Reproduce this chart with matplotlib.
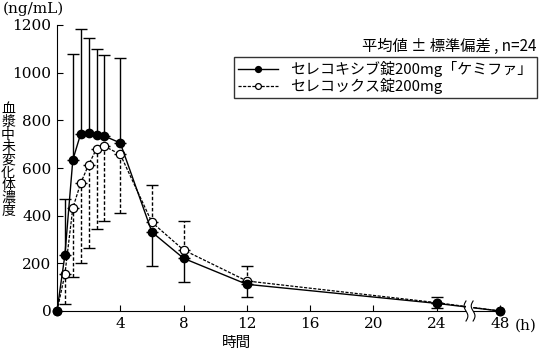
import numpy as np
import matplotlib
matplotlib.use("Agg")
import matplotlib.pyplot as plt
from matplotlib.transforms import blended_transform_factory

plt.rcParams['font.family'] = ['DejaVu Serif', 'Noto Sans CJK JP']

# ---- data ----
time_h = [0, 0.5, 1, 1.5, 2, 2.5, 3, 4, 6, 8, 12, 24, 48]
test_mean = [0, 235, 634, 744, 745, 738, 734, 705, 331, 221, 112, 32, 0]
test_sd   = [0, 236, 446, 439, 399, 363, 340, 355, 142, 101, 52, 20, 0]
ref_mean  = [0, 155, 432, 537, 614, 681, 691, 657, 372, 256, 126, 35, 0]
ref_sd    = [0, 124, 289, 334, 350, 337, 315, 245, 157, 123, 62, 22, 0]
x_ticks = [0, 4, 8, 12, 16, 20, 24, 48]
x_ticklabels = ["", "4", "8", "12", "16", "20", "24", "48"]
y_ticks = [0, 200, 400, 600, 800, 1000, 1200]
label_test = "セレコキシブ錠200mg「ケミファ」"
label_ref = "セレコックス錠200mg"

# ---- broken-axis scale: 24-48 h compressed ----
def fwd(x):
    x = np.asarray(x, dtype=float)
    return np.where(x <= 24, x, 24 + (x - 24) * (4.0 / 24.0))

def inv(y):
    y = np.asarray(y, dtype=float)
    return np.where(y <= 24, y, 24 + (y - 24) * (24.0 / 4.0))

fig = plt.figure(figsize=(5.39, 3.52), dpi=100)
ax = fig.add_axes([57/539, 41/352, 443/539, 286/352])
ax.set_xscale('function', functions=(fwd, inv))

t = np.array(time_h, dtype=float)
tm = np.array(test_mean, dtype=float)
ts = np.array(test_sd, dtype=float)
rm = np.array(ref_mean, dtype=float)
rs = np.array(ref_sd, dtype=float)

test_up = tm >= rm
# error bars: one-sided, away from the other curve
test_err = np.vstack([np.where(test_up, 0, ts), np.where(test_up, ts, 0)])
ref_err = np.vstack([np.where(test_up, rs, 0), np.where(test_up, 0, rs)])

mask = ts > 0
eb1 = ax.errorbar(t[mask], tm[mask], yerr=test_err[:, mask], fmt='none',
                  ecolor='black', elinewidth=1.0, capsize=4, capthick=1.0,
                  zorder=2, clip_on=False)
mask2 = rs > 0
eb2 = ax.errorbar(t[mask2], rm[mask2], yerr=ref_err[:, mask2], fmt='none',
                  ecolor='black', elinewidth=1.0, capsize=4, capthick=1.0,
                  zorder=2, clip_on=False)
for lc in eb2[2]:
    lc.set_linestyle((0, (2.5, 1.5)))

ax.plot(t, rm, linestyle=(0, (2.5, 1.2)), color='black', linewidth=0.9,
        marker='o', markersize=6, markerfacecolor='white',
        markeredgecolor='black', markeredgewidth=0.9, zorder=3,
        clip_on=False, label=label_ref)
ax.plot(t, tm, linestyle='-', color='black', linewidth=1.0,
        marker='o', markersize=6, markerfacecolor='black',
        markeredgecolor='black', zorder=4, clip_on=False, label=label_test)

ax.set_xlim(0, 48)
ax.set_ylim(0, 1200)
ax.spines['top'].set_visible(False)
ax.spines['right'].set_visible(False)
ax.set_xticks(x_ticks)
ax.set_xticklabels(x_ticklabels)
ax.set_yticks(y_ticks)
ax.tick_params(direction='in', length=4, width=0.8, labelsize=11, pad=4)
ax.minorticks_off()

# axis break marks
tr = blended_transform_factory(ax.transData, ax.transAxes)
yy = np.linspace(-0.035, 0.035, 20)
wig = 0.12 * np.sin(np.linspace(0, 2 * np.pi, 20))
bx1, bx2 = inv(25.85), inv(26.3)
ax.fill_between([float(bx1), float(bx2)], -0.02, 0.02, transform=tr,
                color='white', zorder=5, clip_on=False, linewidth=0)
for xb in (25.85, 26.3):
    xs = inv(xb + wig)
    ax.plot(xs, yy, transform=tr, color='black', linewidth=0.8,
            zorder=6, clip_on=False)

# texts
fig.text(3/539, 1 - 9/352, "(ng/mL)", fontsize=11, ha='left', va='center')
fig.text(515/539, 1 - 326/352, "(h)", fontsize=11, ha='left', va='center')
fig.text(237/539, 1 - 343/352, "時間", fontsize=10.5, ha='center', va='center',
         family=['Noto Sans CJK JP'])
fig.text(8/539, 1 - 160/352, "\n".join("血漿中未変化体濃度"), fontsize=10,
         ha='center', va='center', linespacing=0.88,
         family=['Noto Sans CJK JP'])
fig.text(537/539, 1 - 46/352, "平均値 ± 標準偏差 , n=24", fontsize=11,
         ha='right', va='center', family=['Noto Sans CJK JP', 'DejaVu Serif'])

handles, labels = ax.get_legend_handles_labels()
leg = ax.legend(handles[::-1], labels[::-1], loc='upper left',
                bbox_to_anchor=(234/539, 1 - 103/352, 303/539, 46/352),
                bbox_transform=fig.transFigure, mode='expand',
                frameon=True, fancybox=False, edgecolor='black',
                handlelength=2.7, handletextpad=0.8, borderpad=0.25,
                labelspacing=0.1, markerscale=0.7, borderaxespad=0,
                prop={'family': ['Noto Sans CJK JP', 'DejaVu Serif'], 'size': 10.8})
leg.get_frame().set_linewidth(1.0)

fig.savefig("out.png", dpi=100)
